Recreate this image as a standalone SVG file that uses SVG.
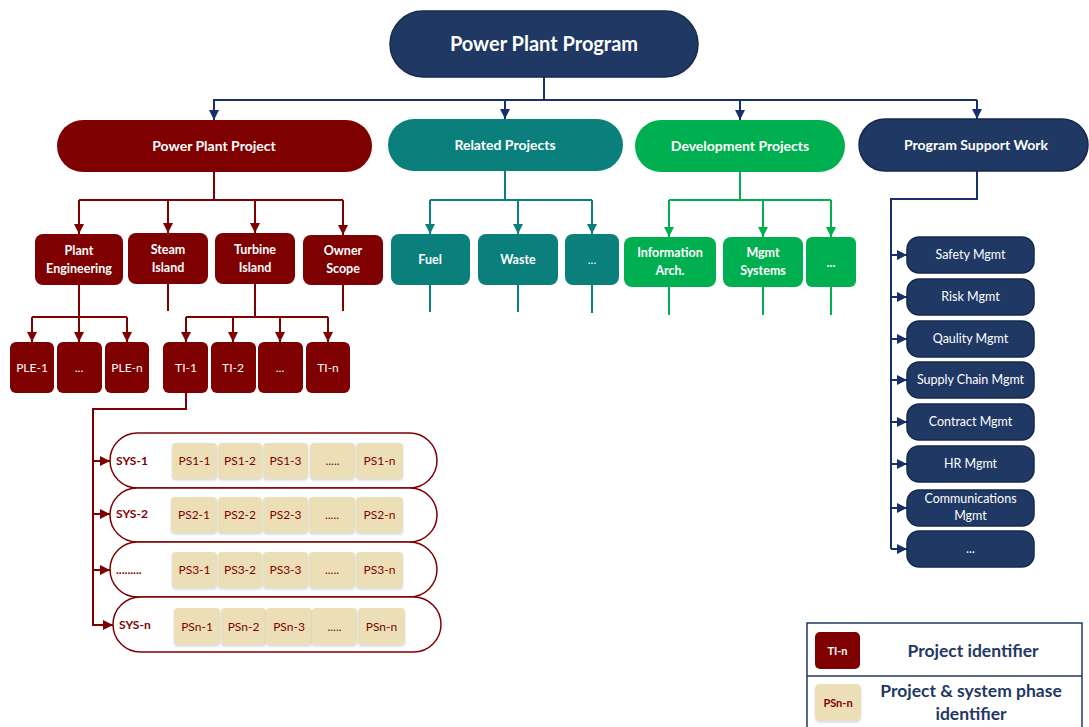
<svg xmlns="http://www.w3.org/2000/svg" width="1089" height="727" viewBox="0 0 1089 727">
  <defs>
    <style>
      text { font-family: Lato, "Liberation Sans", sans-serif; text-anchor: middle; }
      .t-main { font-size: 20px; font-weight: 700; fill: #ffffff; }
      .t-l1 { font-size: 14px; font-weight: 700; fill: #ffffff; }
      .t-l2 { font-size: 12.5px; font-weight: 700; fill: #ffffff; }
      .t-id { font-size: 12px; fill: #ffffff; }
      .t-sup { font-size: 12.5px; fill: #ffffff; }
      .t-sys { font-size: 12px; font-weight: 700; fill: #7f0000; text-anchor: start; }
      .t-ps { font-size: 12px; fill: #7f0000; }
      .t-leg { font-size: 17.5px; font-weight: 700; fill: #1f3864; }
      .navy { fill: #203864; stroke: #15294d; stroke-width: 1.5; }
      .red { fill: #7f0000; }
      .teal { fill: #0b7f7b; }
      .green { fill: #00b050; }
      .ps { fill: #ecdfb8; filter: url(#soft); }
      .cap { fill: #ffffff; stroke: #7f0000; stroke-width: 1.5; }
      .c-navy { fill: none; stroke: #15306a; stroke-width: 2; }
      .c-red { fill: none; stroke: #7f0000; stroke-width: 2; }
      .c-teal { fill: none; stroke: #0b7f7b; stroke-width: 2; }
      .c-green { fill: none; stroke: #00b050; stroke-width: 2; }
    </style>
    <filter id="soft" x="-20%" y="-20%" width="140%" height="150%">
      <feDropShadow dx="0" dy="1.5" stdDeviation="1.2" flood-color="#8fa7c8" flood-opacity="0.45"/>
    </filter>
    <marker id="a-navy" markerUnits="userSpaceOnUse" markerWidth="11" markerHeight="11" refX="10" refY="5" orient="auto">
      <path d="M0,0 L10,5 L0,10 z" fill="#15306a"/>
    </marker>
    <marker id="a-red" markerUnits="userSpaceOnUse" markerWidth="11" markerHeight="11" refX="10" refY="5" orient="auto">
      <path d="M0,0 L10,5 L0,10 z" fill="#7f0000"/>
    </marker>
    <marker id="a-teal" markerUnits="userSpaceOnUse" markerWidth="11" markerHeight="11" refX="10" refY="5" orient="auto">
      <path d="M0,0 L10,5 L0,10 z" fill="#0b7f7b"/>
    </marker>
    <marker id="a-green" markerUnits="userSpaceOnUse" markerWidth="11" markerHeight="11" refX="10" refY="5" orient="auto">
      <path d="M0,0 L10,5 L0,10 z" fill="#00b050"/>
    </marker>
  </defs>

  <rect width="1089" height="727" fill="#ffffff"/>

  <!-- connectors -->
  <g id="connectors">
    <path class="c-navy" d="M544,77 V100 M213,100 H977"/>
    <path class="c-navy" d="M214,100 V120" marker-end="url(#a-navy)"/>
    <path class="c-navy" d="M505,100 V119" marker-end="url(#a-navy)"/>
    <path class="c-navy" d="M740,100 V120" marker-end="url(#a-navy)"/>
    <path class="c-navy" d="M977,100 V119" marker-end="url(#a-navy)"/>

    <path class="c-red" d="M214,172 V200 M79,200 H343"/>
    <path class="c-red" d="M79,200 V234" marker-end="url(#a-red)"/>
    <path class="c-red" d="M168,200 V233" marker-end="url(#a-red)"/>
    <path class="c-red" d="M255,200 V233" marker-end="url(#a-red)"/>
    <path class="c-red" d="M343,200 V235" marker-end="url(#a-red)"/>
    <path class="c-red" d="M168,284 V311 M343,285 V311"/>

    <path class="c-red" d="M79,285 V317 M32,317 H127"/>
    <path class="c-red" d="M32,317 V342" marker-end="url(#a-red)"/>
    <path class="c-red" d="M79,317 V342" marker-end="url(#a-red)"/>
    <path class="c-red" d="M127,317 V342" marker-end="url(#a-red)"/>

    <path class="c-red" d="M255,284 V317 M186,317 H328"/>
    <path class="c-red" d="M186,317 V342" marker-end="url(#a-red)"/>
    <path class="c-red" d="M233,317 V342" marker-end="url(#a-red)"/>
    <path class="c-red" d="M280,317 V342" marker-end="url(#a-red)"/>
    <path class="c-red" d="M328,317 V342" marker-end="url(#a-red)"/>

    <path class="c-red" d="M186,393 V409 H93 V625 H113" marker-end="url(#a-red)"/>
    <path class="c-red" d="M93,461 H110" marker-end="url(#a-red)"/>
    <path class="c-red" d="M93,514 H110" marker-end="url(#a-red)"/>
    <path class="c-red" d="M93,570 H110" marker-end="url(#a-red)"/>

    <path class="c-teal" d="M505,171 V200 M430,200 H592"/>
    <path class="c-teal" d="M430,200 V234" marker-end="url(#a-teal)"/>
    <path class="c-teal" d="M518,200 V234" marker-end="url(#a-teal)"/>
    <path class="c-teal" d="M592,200 V234" marker-end="url(#a-teal)"/>
    <path class="c-teal" d="M430,285 V312 M518,285 V312 M592,285 V313"/>

    <path class="c-green" d="M740,172 V200 M669,200 H831"/>
    <path class="c-green" d="M669,200 V237" marker-end="url(#a-green)"/>
    <path class="c-green" d="M763,200 V237" marker-end="url(#a-green)"/>
    <path class="c-green" d="M831,200 V237" marker-end="url(#a-green)"/>
    <path class="c-green" d="M669,287 V315 M763,287 V315 M831,287 V315"/>

    <path class="c-navy" d="M977,171 V199 H891 V549"/>
    <path class="c-navy" d="M891,255 H907" marker-end="url(#a-navy)"/>
    <path class="c-navy" d="M891,297 H907" marker-end="url(#a-navy)"/>
    <path class="c-navy" d="M891,339 H907" marker-end="url(#a-navy)"/>
    <path class="c-navy" d="M891,380 H907" marker-end="url(#a-navy)"/>
    <path class="c-navy" d="M891,422 H907" marker-end="url(#a-navy)"/>
    <path class="c-navy" d="M891,464 H907" marker-end="url(#a-navy)"/>
    <path class="c-navy" d="M891,508 H907" marker-end="url(#a-navy)"/>
    <path class="c-navy" d="M891,549 H907" marker-end="url(#a-navy)"/>
  </g>

  <!-- program root -->
  <g id="program">
    <rect class="navy" x="390" y="11" width="308" height="66" rx="33"/>
    <text class="t-main" x="544" y="51">Power Plant Program</text>
  </g>

  <!-- level 1 -->
  <g id="power-plant-project">
    <rect class="red" x="57" y="120" width="315" height="52" rx="26"/>
    <text class="t-l1" x="214" y="151">Power Plant Project</text>
  </g>
  <g id="related-projects">
    <rect class="teal" x="388" y="119" width="235" height="52" rx="26"/>
    <text class="t-l1" x="505" y="150">Related Projects</text>
  </g>
  <g id="development-projects">
    <rect class="green" x="635" y="120" width="210" height="52" rx="26"/>
    <text class="t-l1" x="740" y="151">Development Projects</text>
  </g>
  <g id="program-support-work">
    <rect class="navy" x="859" y="119" width="229" height="52" rx="26"/>
    <text class="t-l1" x="976" y="150">Program Support Work</text>
  </g>

  <!-- power plant project parts -->
  <g id="plant-engineering">
    <rect class="red" x="35" y="234" width="88" height="51" rx="8"/>
    <text class="t-l2" x="79" y="255">Plant</text>
    <text class="t-l2" x="79" y="273">Engineering</text>
  </g>
  <g id="steam-island">
    <rect class="red" x="128" y="233" width="80" height="51" rx="8"/>
    <text class="t-l2" x="168" y="254">Steam</text>
    <text class="t-l2" x="168" y="272">Island</text>
  </g>
  <g id="turbine-island">
    <rect class="red" x="215" y="233" width="80" height="51" rx="8"/>
    <text class="t-l2" x="255" y="254">Turbine</text>
    <text class="t-l2" x="255" y="272">Island</text>
  </g>
  <g id="owner-scope">
    <rect class="red" x="303" y="235" width="80" height="50" rx="8"/>
    <text class="t-l2" x="343" y="255">Owner</text>
    <text class="t-l2" x="343" y="273">Scope</text>
  </g>

  <!-- project identifiers -->
  <g id="ple-1"><rect class="red" x="10" y="342" width="44" height="51" rx="6"/><text class="t-id" x="32" y="372">PLE-1</text></g>
  <g id="ple-dots"><rect class="red" x="57" y="342" width="45" height="51" rx="6"/><text class="t-id" x="79" y="372">...</text></g>
  <g id="ple-n"><rect class="red" x="105" y="342" width="44" height="51" rx="6"/><text class="t-id" x="127" y="372">PLE-n</text></g>
  <g id="ti-1"><rect class="red" x="163" y="342" width="45" height="51" rx="6"/><text class="t-id" x="186" y="372">TI-1</text></g>
  <g id="ti-2"><rect class="red" x="211" y="342" width="45" height="51" rx="6"/><text class="t-id" x="233" y="372">TI-2</text></g>
  <g id="ti-dots"><rect class="red" x="258" y="342" width="45" height="51" rx="6"/><text class="t-id" x="280" y="372">...</text></g>
  <g id="ti-n"><rect class="red" x="306" y="342" width="44" height="51" rx="6"/><text class="t-id" x="328" y="372">TI-n</text></g>

  <!-- systems and their phases -->
  <g id="sys-1">
    <rect class="cap" x="110" y="433" width="327" height="55" rx="27.5"/>
    <text class="t-sys" x="116" y="465">SYS-1</text>
    <rect class="ps" x="172" y="443" width="45" height="36" rx="4"/><text class="t-ps" x="194.5" y="465">PS1-1</text>
    <rect class="ps" x="218" y="443" width="44" height="36" rx="4"/><text class="t-ps" x="240" y="465">PS1-2</text>
    <rect class="ps" x="263" y="443" width="45" height="36" rx="4"/><text class="t-ps" x="285.5" y="465">PS1-3</text>
    <rect class="ps" x="310" y="443" width="45" height="36" rx="4"/><text class="t-ps" x="332.5" y="465">.....</text>
    <rect class="ps" x="356" y="443" width="47" height="36" rx="4"/><text class="t-ps" x="379.5" y="465">PS1-n</text>
  </g>
  <g id="sys-2">
    <rect class="cap" x="110" y="488" width="327" height="54" rx="27"/>
    <text class="t-sys" x="116" y="518">SYS-2</text>
    <rect class="ps" x="171" y="497" width="46" height="36" rx="4"/><text class="t-ps" x="194" y="519">PS2-1</text>
    <rect class="ps" x="218" y="497" width="44" height="36" rx="4"/><text class="t-ps" x="240" y="519">PS2-2</text>
    <rect class="ps" x="263" y="497" width="45" height="36" rx="4"/><text class="t-ps" x="285.5" y="519">PS2-3</text>
    <rect class="ps" x="309" y="497" width="46" height="36" rx="4"/><text class="t-ps" x="332" y="519">.....</text>
    <rect class="ps" x="356" y="497" width="47" height="36" rx="4"/><text class="t-ps" x="379.5" y="519">PS2-n</text>
  </g>
  <g id="sys-3">
    <rect class="cap" x="110" y="542" width="327" height="55" rx="27.5"/>
    <text class="t-sys" x="116" y="574">.........</text>
    <rect class="ps" x="172" y="552" width="45" height="36" rx="4"/><text class="t-ps" x="194.5" y="574">PS3-1</text>
    <rect class="ps" x="218" y="552" width="44" height="36" rx="4"/><text class="t-ps" x="240" y="574">PS3-2</text>
    <rect class="ps" x="263" y="552" width="45" height="36" rx="4"/><text class="t-ps" x="285.5" y="574">PS3-3</text>
    <rect class="ps" x="309" y="552" width="46" height="36" rx="4"/><text class="t-ps" x="332" y="574">.....</text>
    <rect class="ps" x="356" y="552" width="47" height="36" rx="4"/><text class="t-ps" x="379.5" y="574">PS3-n</text>
  </g>
  <g id="sys-n">
    <rect class="cap" x="113" y="597" width="328" height="55" rx="27.5"/>
    <text class="t-sys" x="119" y="629">SYS-n</text>
    <rect class="ps" x="174" y="608" width="46" height="37" rx="4"/><text class="t-ps" x="197" y="631">PSn-1</text>
    <rect class="ps" x="221" y="608" width="45" height="37" rx="4"/><text class="t-ps" x="243.5" y="631">PSn-2</text>
    <rect class="ps" x="266" y="608" width="46" height="37" rx="4"/><text class="t-ps" x="289" y="631">PSn-3</text>
    <rect class="ps" x="312" y="608" width="45" height="37" rx="4"/><text class="t-ps" x="334.5" y="631">.....</text>
    <rect class="ps" x="358" y="608" width="47" height="37" rx="4"/><text class="t-ps" x="381.5" y="631">PSn-n</text>
  </g>

  <!-- related projects -->
  <g id="fuel"><rect class="teal" x="391" y="234" width="79" height="51" rx="8"/><text class="t-l2" x="430" y="264">Fuel</text></g>
  <g id="waste"><rect class="teal" x="478" y="234" width="80" height="51" rx="8"/><text class="t-l2" x="518" y="264">Waste</text></g>
  <g id="related-more"><rect class="teal" x="565" y="234" width="54" height="51" rx="8"/><text class="t-id" x="592" y="264">...</text></g>

  <!-- development projects -->
  <g id="information-arch">
    <rect class="green" x="624" y="237" width="92" height="50" rx="8"/>
    <text class="t-l2" x="670" y="257">Information</text>
    <text class="t-l2" x="670" y="275">Arch.</text>
  </g>
  <g id="mgmt-systems">
    <rect class="green" x="723" y="237" width="80" height="50" rx="8"/>
    <text class="t-l2" x="763" y="257">Mgmt</text>
    <text class="t-l2" x="763" y="275">Systems</text>
  </g>
  <g id="development-more"><rect class="green" x="806" y="237" width="50" height="50" rx="6"/><text class="t-l2" x="831" y="267">...</text></g>

  <!-- program support work -->
  <g id="safety-mgmt"><rect class="navy" x="907" y="237" width="127" height="36" rx="12"/><text class="t-sup" x="970.5" y="259">Safety Mgmt</text></g>
  <g id="risk-mgmt"><rect class="navy" x="907" y="279" width="127" height="36" rx="12"/><text class="t-sup" x="970.5" y="301">Risk Mgmt</text></g>
  <g id="quality-mgmt"><rect class="navy" x="907" y="321" width="127" height="36" rx="12"/><text class="t-sup" x="970.5" y="343">Qaulity Mgmt</text></g>
  <g id="supply-chain-mgmt"><rect class="navy" x="907" y="362" width="127" height="36" rx="12"/><text class="t-sup" x="970.5" y="384">Supply Chain Mgmt</text></g>
  <g id="contract-mgmt"><rect class="navy" x="907" y="404" width="127" height="36" rx="12"/><text class="t-sup" x="970.5" y="426">Contract Mgmt</text></g>
  <g id="hr-mgmt"><rect class="navy" x="907" y="446" width="127" height="36" rx="12"/><text class="t-sup" x="970.5" y="468">HR Mgmt</text></g>
  <g id="communications-mgmt">
    <rect class="navy" x="907" y="490" width="127" height="36" rx="12"/>
    <text class="t-sup" x="970.5" y="503">Communications</text>
    <text class="t-sup" x="970.5" y="520">Mgmt</text>
  </g>
  <g id="support-more"><rect class="navy" x="907" y="531" width="127" height="36" rx="12"/><text class="t-sup" x="970.5" y="553">...</text></g>

  <!-- legend -->
  <g id="legend">
    <rect x="807" y="623" width="275" height="112" fill="#ffffff" stroke="#1f3864" stroke-width="1.5"/>
    <line x1="807" y1="676" x2="1082" y2="676" stroke="#1f3864" stroke-width="1.5"/>
    <rect class="red" x="815" y="632" width="45" height="37" rx="5"/>
    <text x="837.5" y="655" style="font-size:11px;font-weight:700;fill:#ffffff">TI-n</text>
    <text class="t-leg" x="973" y="657">Project identifier</text>
    <rect class="ps" x="815" y="684" width="46" height="37" rx="5"/>
    <text x="838" y="707" style="font-size:11px;font-weight:700;fill:#7f0000">PSn-n</text>
    <text class="t-leg" x="971" y="697">Project &amp; system phase</text>
    <text class="t-leg" x="971" y="720">identifier</text>
  </g>
</svg>
